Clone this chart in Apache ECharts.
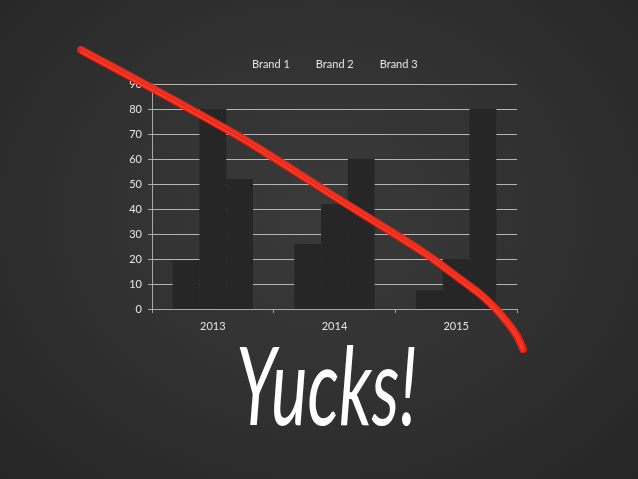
<!DOCTYPE html>
<html>
<head>
<meta charset="utf-8">
<script src="https://cdn.jsdelivr.net/npm/echarts@6/dist/echarts.min.js"></script>
<style>
html,body{margin:0;padding:0;width:638px;height:479px;overflow:hidden;
background:radial-gradient(ellipse at 50% 45%, #3a3a3a 0%, #323232 45%, #262626 100%);}
#c{width:638px;height:479px;}
</style>
</head>
<body>
<div id="c"></div>
<script>
const categories = ['2013', '2014', '2015'];
const brand1 = [19.5, 26, 7.5];
const brand2 = [80, 42, 20];
const brand3 = [52, 60, 80];
const yTicks = [0, 10, 20, 30, 40, 50, 60, 70, 80, 90];
const seriesNames = ['Brand 1', 'Brand 2', 'Brand 3'];
const title = 'Yucks!';
// decorative hand-drawn red stroke (annotation, canvas pixels)
const strokePath = [[81,50],[150,87],[190,109],[240,137],[290,168],[340,200],[390,231],[420,250],[440,264],[460,279],[480,294],[495,308],[507,322],[517,336],[523,349]];

const chart = echarts.init(document.getElementById('c'), null, {renderer: 'canvas'});
const barColor = '#262626';
const txt = '#e4e4e4';
const font = 'Lato, "Open Sans", sans-serif';

function offsetPath(p, dx, dy){ return p.map(q => [q[0]+dx, q[1]+dy]); }

chart.setOption({
  backgroundColor: 'transparent',
  animation: false,
  textStyle: {fontFamily: font},
  legend: {
    data: seriesNames,
    top: 54, left: 242,
    itemWidth: 0, itemHeight: 0, itemGap: 21,
    icon: 'rect',
    itemStyle: {opacity: 0},
    textStyle: {color: txt, fontSize: 11, fontFamily: font}
  },
  grid: {left: 152, right: 121, top: 84, bottom: 170},
  xAxis: {
    type: 'category', data: categories,
    axisLine: {lineStyle: {color: '#a8a8a8', width: 1}},
    axisTick: {show: true, length: 4, lineStyle: {color: '#a8a8a8'}},
    axisLabel: {color: txt, fontSize: 11, margin: 12, fontFamily: font}
  },
  yAxis: {
    type: 'value', min: 0, max: 90, interval: 10,
    axisLine: {show: true, lineStyle: {color: '#a8a8a8', width: 1}},
    axisTick: {show: true, length: 4, lineStyle: {color: '#a8a8a8'}},
    axisLabel: {color: txt, fontSize: 11, margin: 10, fontFamily: font,
      formatter: v => yTicks.includes(v) ? String(v) : ''},
    splitLine: {lineStyle: {color: '#b5b5b5', width: 1}}
  },
  series: [
    {name: seriesNames[0], type: 'bar', data: brand1, barGap: '0%', barCategoryGap: '34%', itemStyle: {color: barColor}},
    {name: seriesNames[1], type: 'bar', data: brand2, barGap: '0%', barCategoryGap: '34%', itemStyle: {color: barColor}},
    {name: seriesNames[2], type: 'bar', data: brand3, barGap: '0%', barCategoryGap: '34%', itemStyle: {color: barColor}}
  ],
  graphic: [
    {type: 'polyline', z: 100, shape: {points: strokePath, smooth: 0.15},
      style: {stroke: '#d8241a', lineWidth: 8, lineCap: 'round', lineJoin: 'round', fill: null}},
    {type: 'polyline', z: 101, shape: {points: offsetPath(strokePath, 0, -1.8), smooth: 0.15},
      style: {stroke: '#f0311f', lineWidth: 3, lineCap: 'round', lineJoin: 'round', fill: null}},
    {type: 'polyline', z: 101, shape: {points: offsetPath(strokePath, 0, 2), smooth: 0.15},
      style: {stroke: '#ff3a26', lineWidth: 2, lineCap: 'round', lineJoin: 'round', fill: null}},
    {type: 'text', z: 100, x: 236, y: 336, scaleX: 0.64,
      style: {text: title, fill: '#ffffff', font: 'italic 400 108px Lato, "Open Sans", sans-serif',
        textVerticalAlign: 'top'}}
  ]
});
</script>
</body>
</html>
